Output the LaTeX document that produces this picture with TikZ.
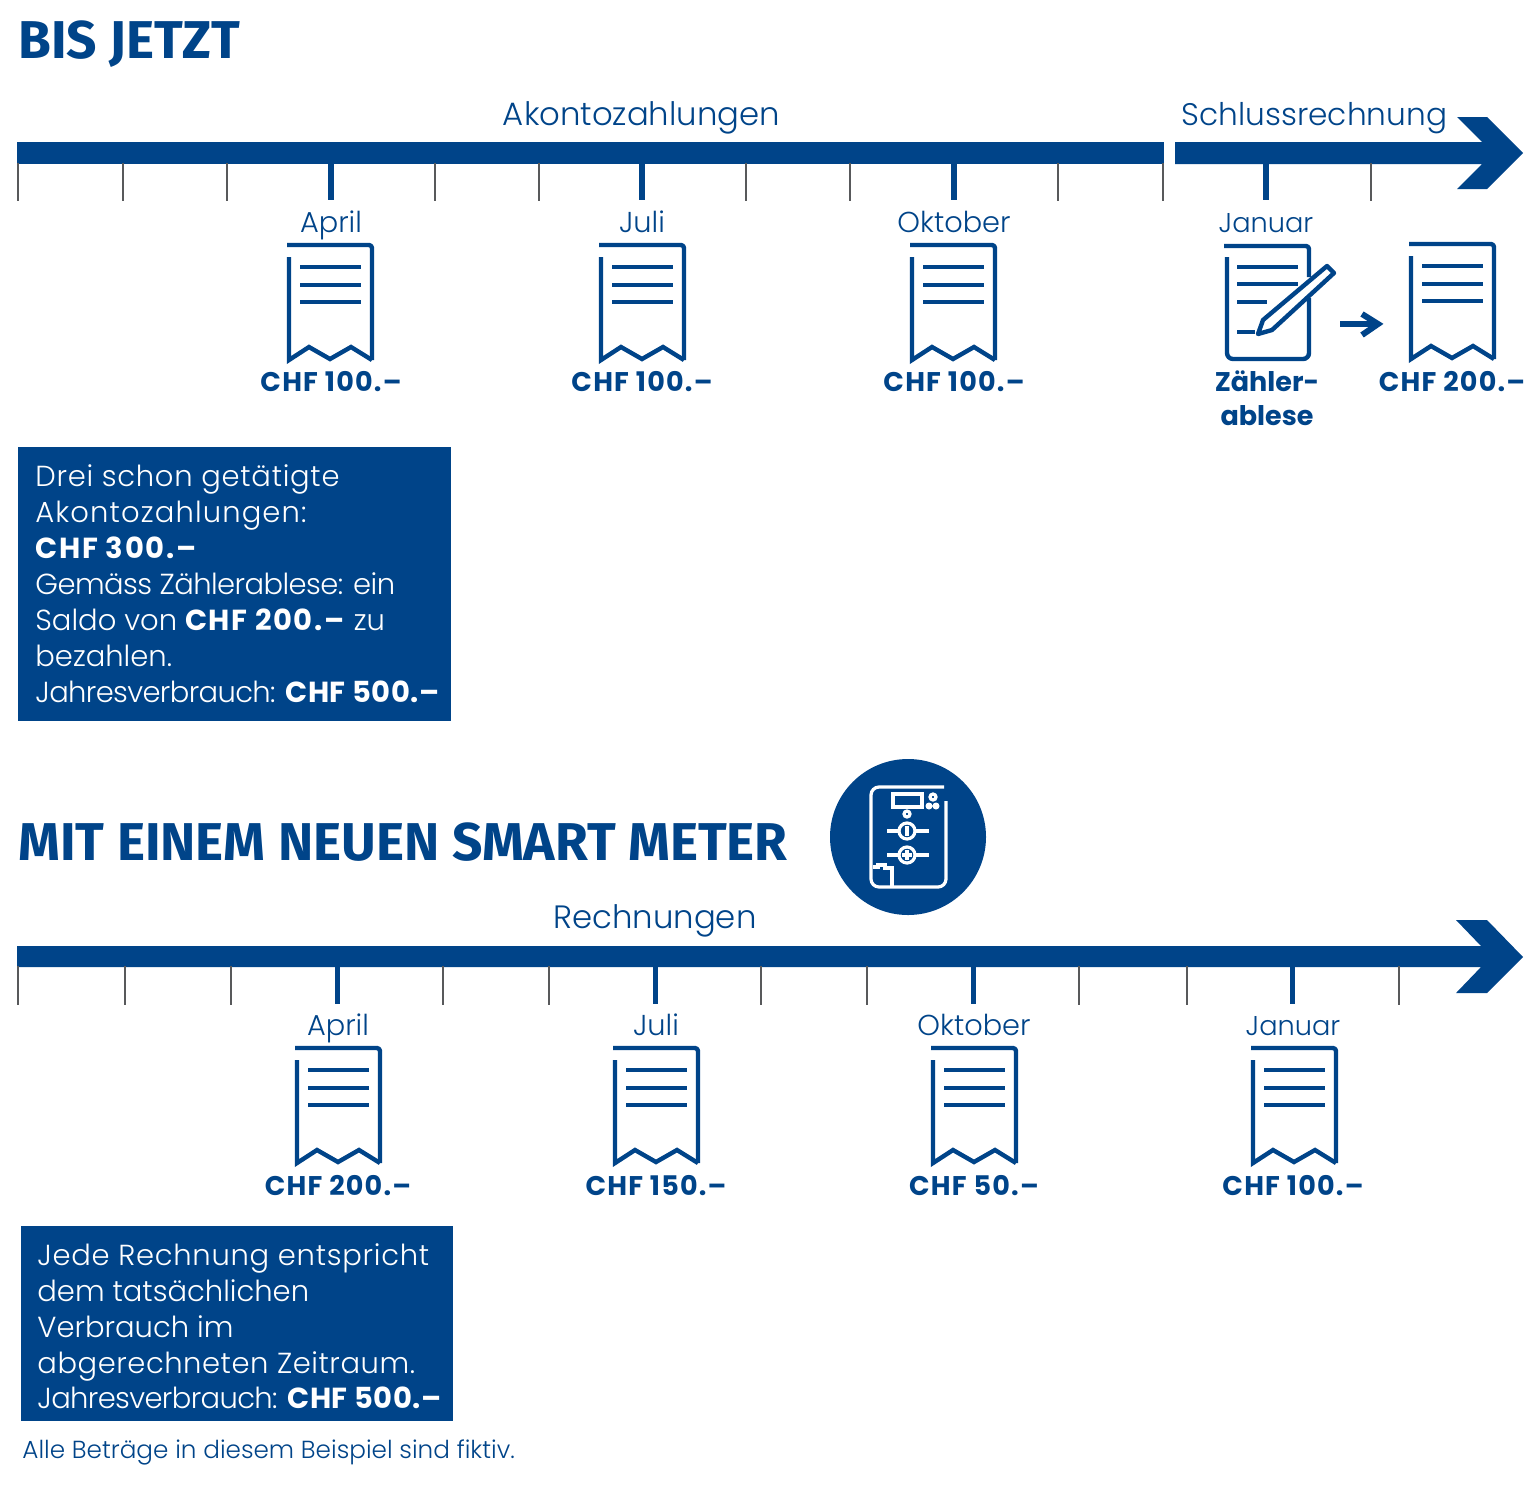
\documentclass[tikz,border=0pt]{standalone}
\usepackage{fontspec}
\setmainfont{Poppins}[UprightFont=* Light,BoldFont=* Bold]
\newfontfamily\titlefont{Fira Sans}
\definecolor{ewz}{HTML}{004489}
\definecolor{tickgray}{HTML}{58595B}
\newcommand{\ls}[2]{{\addfontfeatures{LetterSpace=#1}#2}}
\tikzset{
  ln/.style={draw=ewz,line width=2.2pt,line join=round},
  thintick/.style={draw=tickgray,line width=1.4pt},
  thicktick/.style={draw=ewz,line width=2.6pt},
  title/.style={text=ewz,anchor=base west,inner sep=0pt,font=\titlefont\bfseries\fontsize{26.6}{28}\selectfont},
  head/.style={text=ewz,anchor=base,inner sep=0pt,font=\fontsize{16.15}{18}\selectfont},
  month/.style={text=ewz,anchor=base,inner sep=0pt,font=\fontsize{14.4}{18}\selectfont},
  zlabel/.style={text=ewz,anchor=base,inner sep=0pt,font=\bfseries\fontsize{13.5}{17}\selectfont},
  amount/.style={text=ewz,anchor=base,inner sep=0pt,font=\bfseries\fontsize{13.5}{17}\selectfont\addfontfeatures{LetterSpace=4.5}},
  boxtxt/.style={text=white,anchor=north west,inner sep=0pt,align=left,font=\fontsize{14.5}{18}\selectfont},
  note/.style={text=ewz,anchor=base west,inner sep=0pt,font=\fontsize{12.35}{14}\selectfont},
}
\newcommand{\receipt}[2]{%
  \begin{scope}[shift={(#1,#2)}]
    \draw[ln,rounded corners=1.5pt,line cap=butt] (-43,0) -- (42,0) -- (42,115);
    \draw[ln,line join=miter] (-41,12) -- (-41,115) -- (-21,102) -- (0,114) -- (21,102) -- (42,115);
    \draw[ln] (-30,22) -- (31,22) (-30,40) -- (31,40) (-30,57) -- (31,57);
  \end{scope}}
\begin{document}
\begin{tikzpicture}[x=0.5pt,y=-0.5pt]
\useasboundingbox (0,0) rectangle (1535,1484);
\fill[white] (0,0) rectangle (1535,1484);
% ---- section 1
\node[title] (t1) at (18,58) {BIS JETZT};
\node[head] (h1) at (641.5,125) {Akontozahlungen};
\node[head,font=\fontsize{15.6}{18}\selectfont] (h2) at (1314.5,125) {Schlussrechnung};
\fill[ewz] (17,142) rectangle (1164,164);
\fill[ewz] (1175,142) -- (1482,142) -- (1457,117) -- (1487,117) -- (1523,153) -- (1487,189) -- (1457,189) -- (1482,164) -- (1175,164) -- cycle;
\foreach \x in {18,123,227,435,539,746,850,1058,1163,1371} \draw[thintick] (\x,163) -- (\x,201);
\foreach \x in {331,642,954,1266} \draw[thicktick] (\x,163) -- (\x,200);
\node[month] (m1) at (331,232) {April};
\node[month] (m2) at (642,232) {Juli};
\node[month] (m3) at (954,232) {Oktober};
\node[month,font=\fontsize{13.6}{18}\selectfont] (m4) at (1266,232) {Januar};
\receipt{330}{245}\receipt{642}{245}\receipt{953}{245}\receipt{1452}{244}
\node[amount] (a1) at (331,391) {CHF 100.–};
\node[amount] (a2) at (642,391) {CHF 100.–};
\node[amount] (a3) at (954,391) {CHF 100.–};
\node[amount] (a4) at (1452,391) {CHF 200.–};
\node[zlabel] (z1) at (1267,391) {Zähler-};
\node[zlabel] (z2) at (1267,425) {ablese};
% document with pencil
\draw[ln,rounded corners=1.5pt] (1224,246) -- (1309,246) -- (1309,277);
\draw[ln,rounded corners=3pt] (1309,298) -- (1309,359) -- (1227,359) -- (1227,257);
\draw[ln] (1237,267) -- (1298,267) (1237,284) -- (1298,284) (1237,302) -- (1267,302) (1237,332) -- (1255,332);
\draw[ln] (1258,334) -- (1263,320) -- (1327,266) -- (1334,273) -- (1272,330) -- cycle;
\draw[draw=ewz,line width=3pt] (1340,324) -- (1378,324);
\draw[draw=ewz,line width=3pt] (1362,314) -- (1378,324) -- (1362,335);
% box 1
\fill[ewz] (18,447) rectangle (451,721);
\node[boxtxt] (b1) at (35,464) {\ls{2.5}{Drei schon getätigte}\\\ls{3.9}{Akontozahlungen:}\\\ls{6}{\textbf{CHF 300.–}}\\\ls{-1.9}{Gemäss Zählerablese: ein}\\Saldo von \ls{5.5}{\textbf{CHF 200.–}} zu\\bezahlen.\\\ls{-2.2}{Jahresverbrauch:} \ls{2}{\textbf{CHF 500.–}}};
% ---- section 2
\node[title] (t2) at (18,860) {MIT EINEM NEUEN SMART METER};
\fill[ewz] (908,837) circle[radius=78];
\begin{scope}[draw=white,line width=1.6pt]
  \draw[rounded corners=4pt] (944,787) -- (871,787) -- (871,887) -- (946,887) -- (946,801);
  \draw (893,794) rectangle (922,807);
  \draw (933,797) circle[radius=3];
  \fill[white] (929,806) circle[radius=3.5] (936,806) circle[radius=3.5];
  \draw (907,814) circle[radius=3];
  \draw (887,831) -- (899,831) (915,831) -- (929,831);
  \draw (907,831) circle[radius=8];
  \draw (907,826) -- (907,836);
  \draw (887,855) -- (899,855) (915,855) -- (929,855);
  \draw (907,855) circle[radius=8];
  \draw (907,850) -- (907,860) (902,855) -- (912,855);
  \draw (873,867) -- (878,867) -- (878,865) -- (885,865) -- (885,868) -- (892,868) -- (892,887);
\end{scope}
\node[head] (h3) at (655,928) {Rechnungen};
\fill[ewz] (17,946) -- (1481,946) -- (1456,920) -- (1487,920) -- (1523,957) -- (1487,993) -- (1456,993) -- (1481,967) -- (17,967) -- cycle;
\foreach \x in {18,125,231,443,549,761,867,1079,1187,1399} \draw[thintick] (\x,966) -- (\x,1005);
\foreach \x in {337.5,655.5,973.5,1292.5} \draw[thicktick] (\x,966) -- (\x,1004);
\node[month] (n1) at (338,1035) {April};
\node[month] (n2) at (656,1035) {Juli};
\node[month] (n3) at (974,1035) {Oktober};
\node[month,font=\fontsize{13.6}{18}\selectfont] (n4) at (1293,1035) {Januar};
\receipt{338}{1048}\receipt{656}{1048}\receipt{974}{1048}\receipt{1294}{1048}
\node[amount] (c1) at (338,1195) {CHF 200.–};
\node[amount] (c2) at (656,1195) {CHF 150.–};
\node[amount] (c3) at (974,1195) {CHF 50.–};
\node[amount] (c4) at (1293,1195) {CHF 100.–};
\fill[ewz] (21,1226) rectangle (453,1421);
\node[boxtxt] (b2) at (37,1243) {\ls{2.5}{Jede Rechnung entspricht}\\dem tatsächlichen\\Verbrauch im\\\ls{1.9}{abgerechneten Zeitraum.}\\[-0.5pt]\ls{-2.2}{Jahresverbrauch:} \ls{2}{\textbf{CHF 500.–}}};
\node[note] (fn) at (22,1458) {Alle Beträge in diesem Beispiel sind fiktiv.};
\end{tikzpicture}
\end{document}
